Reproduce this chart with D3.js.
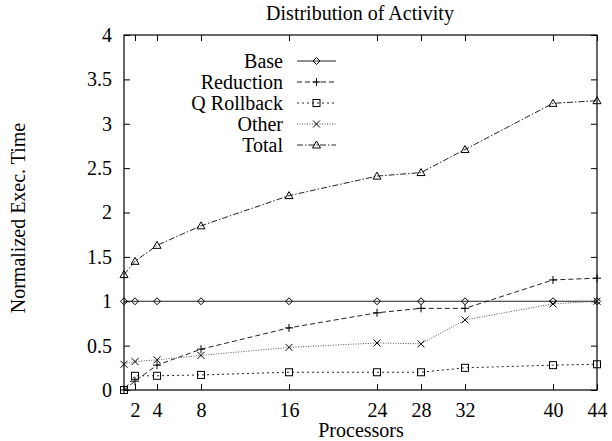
<!DOCTYPE html>
<html><head><meta charset="utf-8">
<script src="https://cdn.jsdelivr.net/npm/d3@7"></script>
<style>body{margin:0;background:#fff}svg{display:block}svg text{font-family:"Liberation Serif","Times New Roman","DejaVu Serif",serif !important;fill:#000}</style>
</head><body><svg id="c" width="612" height="441"></svg>
<script>
const procs = [1, 2, 4, 8, 16, 24, 28, 32, 40, 44];
const xTicks = [2, 4, 8, 16, 24, 28, 32, 40, 44];
const yTicks = [0, 0.5, 1, 1.5, 2, 2.5, 3, 3.5, 4];
const seriesNames = ["Base", "Reduction", "Q Rollback", "Other", "Total"];
const base = [1, 1, 1, 1, 1, 1, 1, 1, 1, 1];
const reduction = [0, 0.1, 0.28, 0.46, 0.70, 0.87, 0.92, 0.92, 1.24, 1.26];
const qRollback = [0, 0.16, 0.16, 0.17, 0.20, 0.20, 0.20, 0.25, 0.28, 0.29];
const other = [0.29, 0.32, 0.34, 0.39, 0.48, 0.53, 0.52, 0.79, 0.97, 1.0];
const total = [1.3, 1.45, 1.63, 1.85, 2.19, 2.41, 2.45, 2.71, 3.23, 3.26];

const seriesVals = [base, reduction, qRollback, other, total];
const dashes = [null, "5,3", "2,3", "1,1.5", "6,2,1.5,2"];
const strokes = ["#222", "#222", "#222", "#555", "#222"];
const markers = ["diamond", "plus", "square", "cross", "triangle"];
const FONT = '"Liberation Serif","Times New Roman","DejaVu Serif",serif';

const svg = d3.select("#c");
const L = 124, R = 597, T = 35, B = 390;
const x = d3.scaleLinear().domain([1, 44]).range([L, R]);
const y = d3.scaleLinear().domain([0, 4]).range([B, T]);

// frame
svg.append("rect").attr("x", L).attr("y", T).attr("width", R - L).attr("height", B - T)
  .attr("fill", "none").attr("stroke", "#000").attr("stroke-width", 1.2);

const tl = 6;
const bx = svg.append("g").attr("transform", `translate(0,${B})`)
  .call(d3.axisBottom(x).tickValues(xTicks).tickSize(-tl).tickPadding(13).tickFormat(d3.format("d")));
const tx = svg.append("g").attr("transform", `translate(0,${T})`)
  .call(d3.axisTop(x).tickValues(xTicks).tickSize(-tl).tickFormat(""));
const ly = svg.append("g").attr("transform", `translate(${L},0)`)
  .call(d3.axisLeft(y).tickValues(yTicks).tickSize(-tl).tickPadding(12).tickFormat(d => String(d)));
const ry = svg.append("g").attr("transform", `translate(${R},0)`)
  .call(d3.axisRight(y).tickValues(yTicks).tickSize(-tl).tickFormat(""));
[bx, tx, ly, ry].forEach(g => {
  g.attr("font-family", FONT).attr("font-size", 20);
  g.select(".domain").remove();
  g.selectAll("line").attr("stroke", "#000");
  g.selectAll("text").style("font-family", FONT).style("font-size", "20px").attr("fill", "#000");
});

// symbol drawing
function drawMarker(g, type, cx, cy, color) {
  const s = 3.5;
  if (type === "diamond") {
    g.append("path").attr("d", `M${cx},${cy - s}L${cx + s},${cy}L${cx},${cy + s}L${cx - s},${cy}Z`)
      .attr("fill", "none").attr("stroke", color).attr("stroke-width", 1);
  } else if (type === "plus") {
    g.append("path").attr("d", `M${cx - s - 0.5},${cy}H${cx + s + 0.5}M${cx},${cy - s - 0.5}V${cy + s + 0.5}`)
      .attr("stroke", color).attr("stroke-width", 1);
  } else if (type === "square") {
    g.append("rect").attr("x", cx - s).attr("y", cy - s).attr("width", 2 * s).attr("height", 2 * s)
      .attr("fill", "none").attr("stroke", color).attr("stroke-width", 1);
  } else if (type === "cross") {
    g.append("path").attr("d", `M${cx - s},${cy - s}L${cx + s},${cy + s}M${cx - s},${cy + s}L${cx + s},${cy - s}`)
      .attr("stroke", color).attr("stroke-width", 1);
  } else if (type === "triangle") {
    g.append("path").attr("d", `M${cx},${cy - s - 0.5}L${cx + s + 0.5},${cy + s - 0.5}L${cx - s - 0.5},${cy + s - 0.5}Z`)
      .attr("fill", "none").attr("stroke", color).attr("stroke-width", 1);
  }
}

const line = d3.line().x((d, i) => x(procs[i])).y(d => y(d));
seriesVals.forEach((vals, k) => {
  const g = svg.append("g");
  g.append("path").datum(vals).attr("d", line).attr("fill", "none")
    .attr("stroke", strokes[k]).attr("stroke-width", 1)
    .attr("stroke-dasharray", dashes[k]);
  vals.forEach((v, i) => drawMarker(g, markers[k], x(procs[i]), y(v), "#000"));
});

// legend
const legY0 = 61, legDy = 21, legTextX = 283, legL1 = 297, legL2 = 336;
seriesNames.forEach((name, k) => {
  const yy = legY0 + k * legDy;
  svg.append("text").attr("x", legTextX).attr("y", yy).attr("dy", "0.35em")
    .attr("text-anchor", "end").style("font-family", FONT).style("font-size", "20px").text(name);
  svg.append("line").attr("x1", legL1).attr("x2", legL2).attr("y1", yy).attr("y2", yy)
    .attr("stroke", strokes[k]).attr("stroke-width", 1).attr("stroke-dasharray", dashes[k]);
  drawMarker(svg, markers[k], (legL1 + legL2) / 2, yy, "#000");
});

// titles
svg.append("text").attr("x", 360).attr("y", 20).attr("text-anchor", "middle")
  .style("font-family", FONT).style("font-size", "20px").text("Distribution of Activity");
svg.append("text").attr("x", 361).attr("y", 437).attr("text-anchor", "middle")
  .style("font-family", FONT).style("font-size", "20px").text("Processors");
svg.append("text").attr("transform", "translate(25,218) rotate(-90)").attr("text-anchor", "middle")
  .style("font-family", FONT).style("font-size", "20px").text("Normalized Exec. Time");
</script></body></html>
